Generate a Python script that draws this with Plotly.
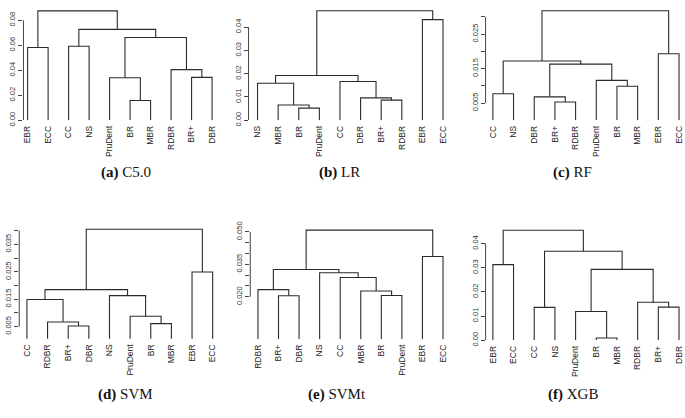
import plotly.graph_objects as go

W, H = 685, 418

# ---------------- data ----------------
titles = ["C5.0", "LR", "RF", "SVM", "SVMt", "XGB"]
letters = ["a", "b", "c", "d", "e", "f"]

# leaf order (left to right) for each dendrogram
c50_leaves = ["EBR", "ECC", "CC", "NS", "PruDent", "BR", "MBR", "RDBR", "BR+", "DBR"]
lr_leaves = ["NS", "MBR", "BR", "PruDent", "CC", "DBR", "BR+", "RDBR", "EBR", "ECC"]
rf_leaves = ["CC", "NS", "DBR", "BR+", "RDBR", "PruDent", "BR", "MBR", "EBR", "ECC"]
svm_leaves = ["CC", "RDBR", "BR+", "DBR", "NS", "PruDent", "BR", "MBR", "EBR", "ECC"]
svmt_leaves = ["RDBR", "BR+", "DBR", "NS", "CC", "MBR", "BR", "PruDent", "EBR", "ECC"]
xgb_leaves = ["EBR", "ECC", "CC", "NS", "PruDent", "BR", "MBR", "RDBR", "BR+", "DBR"]

# merges (hclust style): negative = leaf number (1-based, in plotted order),
# positive = earlier merge step (1-based)
c50_merge = [(-6, -7), (-9, -10), (-5, 1), (-8, 2), (3, 4), (-3, -4), (-1, -2), (6, 5), (7, 8)]
c50_height = [0.0158, 0.0343, 0.0340, 0.0405, 0.0662, 0.0592, 0.0582, 0.0727, 0.0875]

lr_merge = [(-3, -4), (-2, 1), (-7, -8), (-6, 3), (-1, 2), (-5, 4), (5, 6), (-9, -10), (7, 8)]
lr_height = [0.0052, 0.0065, 0.0086, 0.0096, 0.0159, 0.0166, 0.0192, 0.0432, 0.0470]

rf_merge = [(-4, -5), (-3, 1), (-1, -2), (-7, -8), (-6, 4), (2, 5), (3, 6), (-9, -10), (7, 8)]
rf_height = [0.0053, 0.0068, 0.0077, 0.0099, 0.0116, 0.0163, 0.0172, 0.0193, 0.0318]

svm_merge = [(-3, -4), (-7, -8), (-2, 1), (-6, 2), (-1, 3), (-5, 4), (5, 6), (-9, -10), (7, 8)]
svm_height = [0.0052, 0.0061, 0.0067, 0.0088, 0.0149, 0.0163, 0.0185, 0.0249, 0.0405]

svmt_merge = [(-2, -3), (-7, -8), (-6, 2), (-1, 1), (-5, 3), (-4, 5), (4, 6), (-9, -10), (7, 8)]
svmt_height = [0.0205, 0.0206, 0.0227, 0.0233, 0.0289, 0.0311, 0.0326, 0.0386, 0.0508]

xgb_merge = [(-6, -7), (-5, 1), (-9, -10), (-3, -4), (-8, 3), (2, 5), (-1, -2), (4, 6), (7, 8)]
xgb_height = [0.0009, 0.0119, 0.0137, 0.0136, 0.0157, 0.0293, 0.0313, 0.0368, 0.0455]

# y-axis ticks and labels
c50_ticks = [0.00, 0.02, 0.04, 0.06, 0.08]
c50_ticktext = ["0.00", "0.02", "0.04", "0.06", "0.08"]
lr_ticks = [0.00, 0.01, 0.02, 0.03, 0.04]
lr_ticktext = ["0.00", "0.01", "0.02", "0.03", "0.04"]
rf_ticks = [0.005, 0.010, 0.015, 0.020, 0.025, 0.030]
rf_ticktext = ["0.005", "", "0.015", "", "0.025", ""]
svm_ticks = [0.005, 0.010, 0.015, 0.020, 0.025, 0.030, 0.035, 0.040]
svm_ticktext = ["0.005", "", "0.015", "", "0.025", "", "0.035", ""]
svmt_ticks = [0.020, 0.025, 0.030, 0.035, 0.040, 0.045, 0.050]
svmt_ticktext = ["0.020", "", "", "0.035", "", "", "0.050"]
xgb_ticks = [0.00, 0.01, 0.02, 0.03, 0.04]
xgb_ticktext = ["0.00", "0.01", "0.02", "0.03", "0.04"]

panels = [
    (c50_leaves, c50_merge, c50_height, c50_ticks, c50_ticktext),
    (lr_leaves, lr_merge, lr_height, lr_ticks, lr_ticktext),
    (rf_leaves, rf_merge, rf_height, rf_ticks, rf_ticktext),
    (svm_leaves, svm_merge, svm_height, svm_ticks, svm_ticktext),
    (svmt_leaves, svmt_merge, svmt_height, svmt_ticks, svmt_ticktext),
    (xgb_leaves, xgb_merge, xgb_height, xgb_ticks, xgb_ticktext),
]

# ---------------- layout geometry (pixels) ----------------
# axis_px, leaf1_px, leafN_px, right_px, (val_a, px_a), (val_b, px_b), top_px, bottom_px
geom = [
    (22.5, 26.7, 211.7, 218, (0.00, 118.3), (0.08, 15.7), 3, 118.3),
    (248.3, 257.3, 443.3, 449, (0.00, 118.3), (0.04, 22.7), 3, 118.3),
    (486, 493.3, 680, 684, (0.005, 100.7), (0.030, 12.3), 3, 118.3),
    (18.3, 26, 212.3, 218, (0.005, 330.3), (0.040, 231.7), 227, 342.7),
    (250, 257.7, 443.3, 449, (0.020, 299.7), (0.050, 233.0), 227, 343.0),
    (486, 493.3, 680, 684, (0.00, 344.3), (0.04, 245.0), 227, 344.3),
]
cap_pos = [(125, 172), (339, 172), (573, 172), (125, 400), (337, 400), (574, 400)]

line_col = "#2b2b2b"
fig = go.Figure()
layout = dict(width=W, height=H, margin=dict(l=0, r=0, t=0, b=0),
              paper_bgcolor="white", plot_bgcolor="white", showlegend=False)
shapes, annotations = [], []

for i, ((leaves, merge, height, ticks, ticktext), g) in enumerate(zip(panels, geom)):
    k = "" if i == 0 else str(i + 1)
    xa, ya = "x" + k, "y" + k
    axis_px, l1, ln, right_px, (va, pa), (vb, pb), top_px, bot_px = g
    n = len(leaves)
    xs = (ln - l1) / (n - 1)
    x0 = 1 - (l1 - axis_px) / xs
    x1 = n + (right_px - ln) / xs
    ys = (pa - pb) / (vb - va)
    y_bot = va - (bot_px - pa) / ys
    y_top = va + (pa - top_px) / ys

    # dendrogram segments
    pos, hts = [], []
    xs_line, ys_line = [], []
    for (a, b), h in zip(merge, height):
        def child(c):
            if c < 0:
                return float(-c), 0.0
            return pos[c - 1], hts[c - 1]
        xa_, ya_ = child(a)
        xb_, yb_ = child(b)
        xs_line += [xa_, xa_, xb_, xb_, None]
        ys_line += [ya_, h, h, yb_, None]
        pos.append((xa_ + xb_) / 2)
        hts.append(h)
    fig.add_trace(go.Scatter(x=xs_line, y=ys_line, mode="lines", xaxis=xa, yaxis=ya,
                             line=dict(color=line_col, width=1.1), hoverinfo="skip"))

    xkey = "xaxis" + k
    ykey = "yaxis" + k
    layout[xkey] = dict(domain=[axis_px / W, right_px / W], range=[x0, x1], anchor=ya,
                        tickmode="array", tickvals=list(range(1, n + 1)), ticktext=leaves,
                        tickangle=-90, ticks="", showgrid=False, zeroline=False,
                        showline=False, ticklabelstandoff=3,
                        tickfont=dict(family="Liberation Sans", size=8.5, color="#222"))
    layout[ykey] = dict(domain=[1 - bot_px / H, 1 - top_px / H], range=[y_bot, y_top],
                        anchor=xa, tickmode="array", tickvals=ticks, ticktext=ticktext,
                        tickangle=-90, ticks="outside", ticklen=4, tickwidth=1,
                        tickcolor="#444", showgrid=False, zeroline=False, showline=False,
                        tickfont=dict(family="Liberation Sans", size=7.5, color="#333"))
    shapes.append(dict(type="line", xref=xa + " domain", yref=ya, x0=0, x1=0,
                       y0=ticks[0], y1=ticks[-1], line=dict(color="#444", width=1)))
    cx, cy = cap_pos[i]
    annotations.append(dict(text="<b>(" + letters[i] + ")</b> " + titles[i],
                            x=cx / W, y=1 - cy / H, xref="paper", yref="paper",
                            showarrow=False, xanchor="center", yanchor="middle",
                            font=dict(family="Liberation Serif", size=15, color="#111")))

layout["shapes"] = shapes
layout["annotations"] = annotations
fig.update_layout(**layout)
fig.write_html("out.html", config={"displayModeBar": False},
               post_script="document.body.style.margin='0';document.body.style.overflow='hidden';")
